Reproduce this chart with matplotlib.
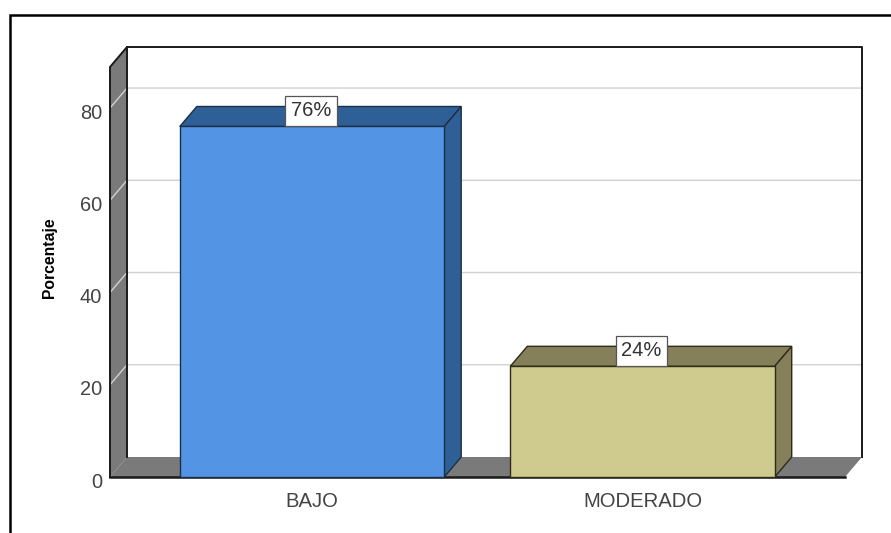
import matplotlib
matplotlib.use('Agg')
import matplotlib.pyplot as plt
from matplotlib.lines import Line2D
from matplotlib.patches import Polygon
from matplotlib.transforms import ScaledTranslation

plt.rcParams['font.family'] = ['Liberation Sans', 'DejaVu Sans']

categories = ['BAJO', 'MODERADO']
values = [76, 24]
value_labels = ['76%', '24%']
y_ticks = [0, 20, 40, 60, 80]

front_colors = ['#5494e4', '#cfcb8e']
side_colors = ['#2f5f97', '#85805a']
edge_colors = ['#1c2f45', '#2e2b18']
wall_color = '#7a7a7a'
grid_color = '#d2d2d2'
bar_width = 0.8

W, H = 891, 533
fig = plt.figure(figsize=(W / 100, H / 100), dpi=100)
fig.patch.set_facecolor('white')

# los ejes son el plano frontal del grafico 3D
ax = fig.add_axes([110 / W, (H - 477) / H, 735 / W, 410 / H])
ax.set_xlim(-0.6112, 1.6127)
ax.set_ylim(0, 88.9)
ax.set_facecolor('none')
for s in ax.spines.values():
    s.set_visible(False)

# profundidad en unidades de datos
dx = 17 / 330.5
dy = 20 / 4.6125
x0, x1 = ax.get_xlim()
y0, y1 = ax.get_ylim()


def poly(points, face, edge='none', lw=0, z=1):
    ax.add_patch(Polygon(points, closed=True, facecolor=face, edgecolor=edge,
                         linewidth=lw, zorder=z, clip_on=False, joinstyle='miter'))


# paredes y suelo
poly([(x0, y0), (x0, y1), (x0 + dx, y1 + dy), (x0 + dx, y0 + dy)], wall_color, z=1)
poly([(x0, y0), (x0 + dx, y0 + dy), (x1 + dx, y0 + dy), (x1, y0)], wall_color, z=1)

for t in y_ticks[1:]:
    ax.plot([x0, x0 + dx, x1 + dx], [t, t + dy, t + dy], color=grid_color, lw=1.0,
            zorder=2, clip_on=False)

k = dict(color='#1a1a1a', clip_on=False, zorder=3, solid_capstyle='projecting')
ax.plot([x0, x0, x0 + dx, x1 + dx, x1 + dx], [y0, y1, y1 + dy, y1 + dy, y0 + dy], lw=1.4, **k)
ax.plot([x0 + dx, x0 + dx], [y0 + dy, y1 + dy], lw=1.4, **k)
ax.plot([x0, x1], [y0, y0], lw=1.8, **k)

# barras
xs = list(range(len(categories)))
for i, v in zip(xs, values):
    left, right = i - bar_width / 2, i + bar_width / 2
    poly([(left, v), (left + dx, v + dy), (right + dx, v + dy), (right, v)],
         side_colors[i], edge_colors[i], 1.0, 4)
    poly([(right, 0), (right + dx, dy), (right + dx, v + dy), (right, v)],
         side_colors[i], edge_colors[i], 1.0, 4)
ax.bar(xs, values, width=bar_width, color=front_colors, edgecolor=edge_colors,
       linewidth=1.0, zorder=5, clip_on=False)

for i, v, lab in zip(xs, values, value_labels):
    ax.text(i - 0.003, v + dy * 0.78, lab, ha='center', va='center', fontsize=14.5,
            color='#333333', zorder=6,
            bbox=dict(boxstyle='square,pad=0.27', facecolor='white', edgecolor='#555555',
                      linewidth=0.9))

# ejes
ax.set_xticks(xs)
ax.set_xticklabels(categories)
ax.set_yticks(y_ticks)
ax.tick_params(axis='both', length=0, labelcolor='#444444')
ax.tick_params(axis='y', pad=5.7, labelsize=14.4)
ax.tick_params(axis='x', pad=11, labelsize=14.6)
down = ScaledTranslation(0, -2.2 / 72, fig.dpi_scale_trans)
for lab in ax.get_yticklabels():
    lab.set_transform(lab.get_transform() + down)

ax.set_ylabel('Porcentaje', fontsize=11.3, fontweight='bold', color='black')
ax.yaxis.set_label_coords((57 - 110) / 735, (477 - 257.5) / 410)

# marco exterior abierto por la derecha y abajo
fig.add_artist(Line2D([10 / W, 10 / W, 1], [0, (H - 15) / H, (H - 15) / H], color='black', lw=1.8,
                      solid_joinstyle='miter'))

fig.savefig('out.png', dpi=100)
